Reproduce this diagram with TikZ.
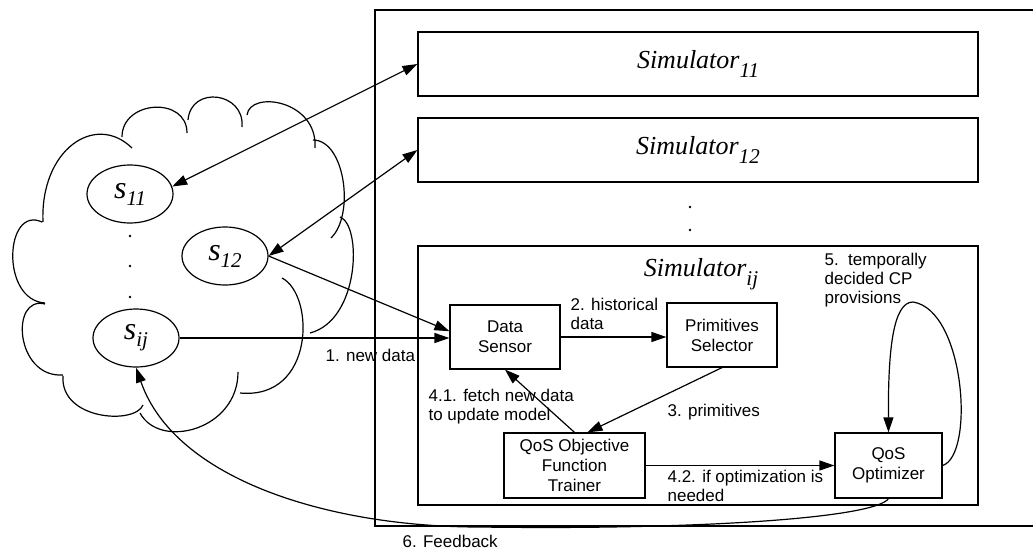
\documentclass[tikz,border=0pt]{standalone}
\usepackage{fontspec}
\setmainfont{Liberation Serif}
\setsansfont{Liberation Sans}
\usetikzlibrary{arrows.meta,shapes.geometric}
\newcommand{\simName}[1]{{\fontsize{26}{26}\selectfont\itshape Simulator\raisebox{-9pt}{\fontsize{21}{21}\selectfont #1}}}
\newcommand{\servName}[1]{{\fontsize{32}{32}\selectfont\itshape s\raisebox{-7pt}{\fontsize{21}{21}\selectfont #1}}}
\tikzset{
  simbox/.style={draw, minimum width=560pt, minimum height=64pt, inner sep=0pt},
  servnode/.style={draw, ellipse, minimum width=86pt, minimum height=58pt, inner sep=0pt},
  unitbox/.style={draw, minimum height=64pt, inner sep=0pt, align=center, font=\sffamily\fontsize{17}{20}\selectfont},
  lbl/.style={anchor=west, align=left, inner sep=0pt, font=\sffamily\fontsize{17}{19}\selectfont},
  flow/.style={-{Triangle[length=15pt,width=10pt]}},
  both/.style={{Triangle[length=15pt,width=10pt]}-{Triangle[length=15pt,width=10pt]}},
}

\begin{document}
\begin{tikzpicture}[x=1pt, y=-1pt, line width=1.2pt]
  \useasboundingbox (0,0) rectangle (1033,549);
  % Cloud
  \draw (43,222) .. controls (40,150) and (95,112) .. (132,148)
        (122,137) .. controls (122,100) and (187,96) .. (187,133)
        (188,120) .. controls (191,85) and (245,92) .. (242,127)
        (247,115) .. controls (250,90) and (318,100) .. (315,148)
        (313,140) .. controls (345,140) and (355,215) .. (331,238)
        (340,217) .. controls (362,225) and (360,320) .. (310,333)
        (282,278) .. controls (315,295) and (315,400) .. (240,393)
        (238,372) .. controls (238,430) and (160,450) .. (140,413)
        (143,405) .. controls (135,425) and (60,420) .. (63,376)
        (63,375) .. controls (15,378) and (10,295) .. (45,304)
        (45,303) .. controls (0,300) and (5,205) .. (42,222);
  % Frame
  \draw (1033,10) -- (375,10) -- (375,526) -- (1033,526);
  % Nodes
  \node[simbox] (sim11) at (698,64) {\simName{11}};
  \node[simbox] (sim12) at (698,150) {\simName{12}};
  \node[simbox, minimum height=259pt] (simij) at (698,375.5) {};
  \node (simijName) at (701,274) {\simName{ij}};
  \foreach \y in {207,230} \fill (690,\y) circle (1.3);
  \node[servnode] (s11) at (130,194) {\servName{11}};
  \node[servnode] (s12) at (225,256) {\servName{12}};
  \node[servnode] (sij) at (136,338) {\servName{ij}};
  \foreach \y in {236,266,297} \fill (130,\y) circle (1.3);
  \node[unitbox, minimum width=110pt] (sensor) at (505,337) {Data\\Sensor};
  \node[unitbox, minimum width=110pt] (selector) at (722,335) {Primitives\\Selector};
  \node[unitbox, minimum width=141pt, minimum height=65pt] (trainer) at (574.5,465.5) {QoS Objective\\Function\\Trainer};
  \node[unitbox, minimum width=107pt, minimum height=65pt] (optimizer) at (888.5,465.5) {QoS\\Optimizer};
  % Connectors
  \draw[both] (s11.10) -- (sim11.west);
  \draw[both] (s12.east) -- (sim12.west);
  \draw[flow] (s12.east) -- (sensor.174);
  \draw[flow] (sij.east) -- (sij.east -| sensor.west);
  \draw[flow] (sensor.east) -- (sensor.east -| selector.west);
  \draw[flow] (selector.south) -- ([xshift=13pt]trainer.north);
  \draw[flow] (trainer.north) -- (sensor.south);
  \draw[flow] (trainer.east) -- (optimizer.west);
  \draw[flow] (optimizer.east) .. controls (975,455) and (965,310) .. (913,302)
                               .. controls (893,302) and (888,350) .. (optimizer.north);
  \draw[flow] (optimizer.south) .. controls (875,518) and (700,530) .. (480,527)
                                .. controls (330,527) and (175,480) .. (sij.south);
  % Labels
  \node[lbl] (newData) at (325,355) {1. new data};
  \node[lbl] (histData) at (570,313.5) {2. historical\\data};
  \node[lbl] (primLbl) at (667,412) {3. primitives};
  \node[lbl] (fetchLbl) at (428,407) {4.1. fetch new data\\to update model};
  \node[lbl] (optLbl) at (667,486) {4.2. if optimization is\\needed};
  \node[lbl] (provLbl) at (824,280.5) {5.\ \ temporally\\decided CP\\provisions};
  \node[lbl] (feedLbl) at (402,541) {6. Feedback};
\end{tikzpicture}
\end{document}
